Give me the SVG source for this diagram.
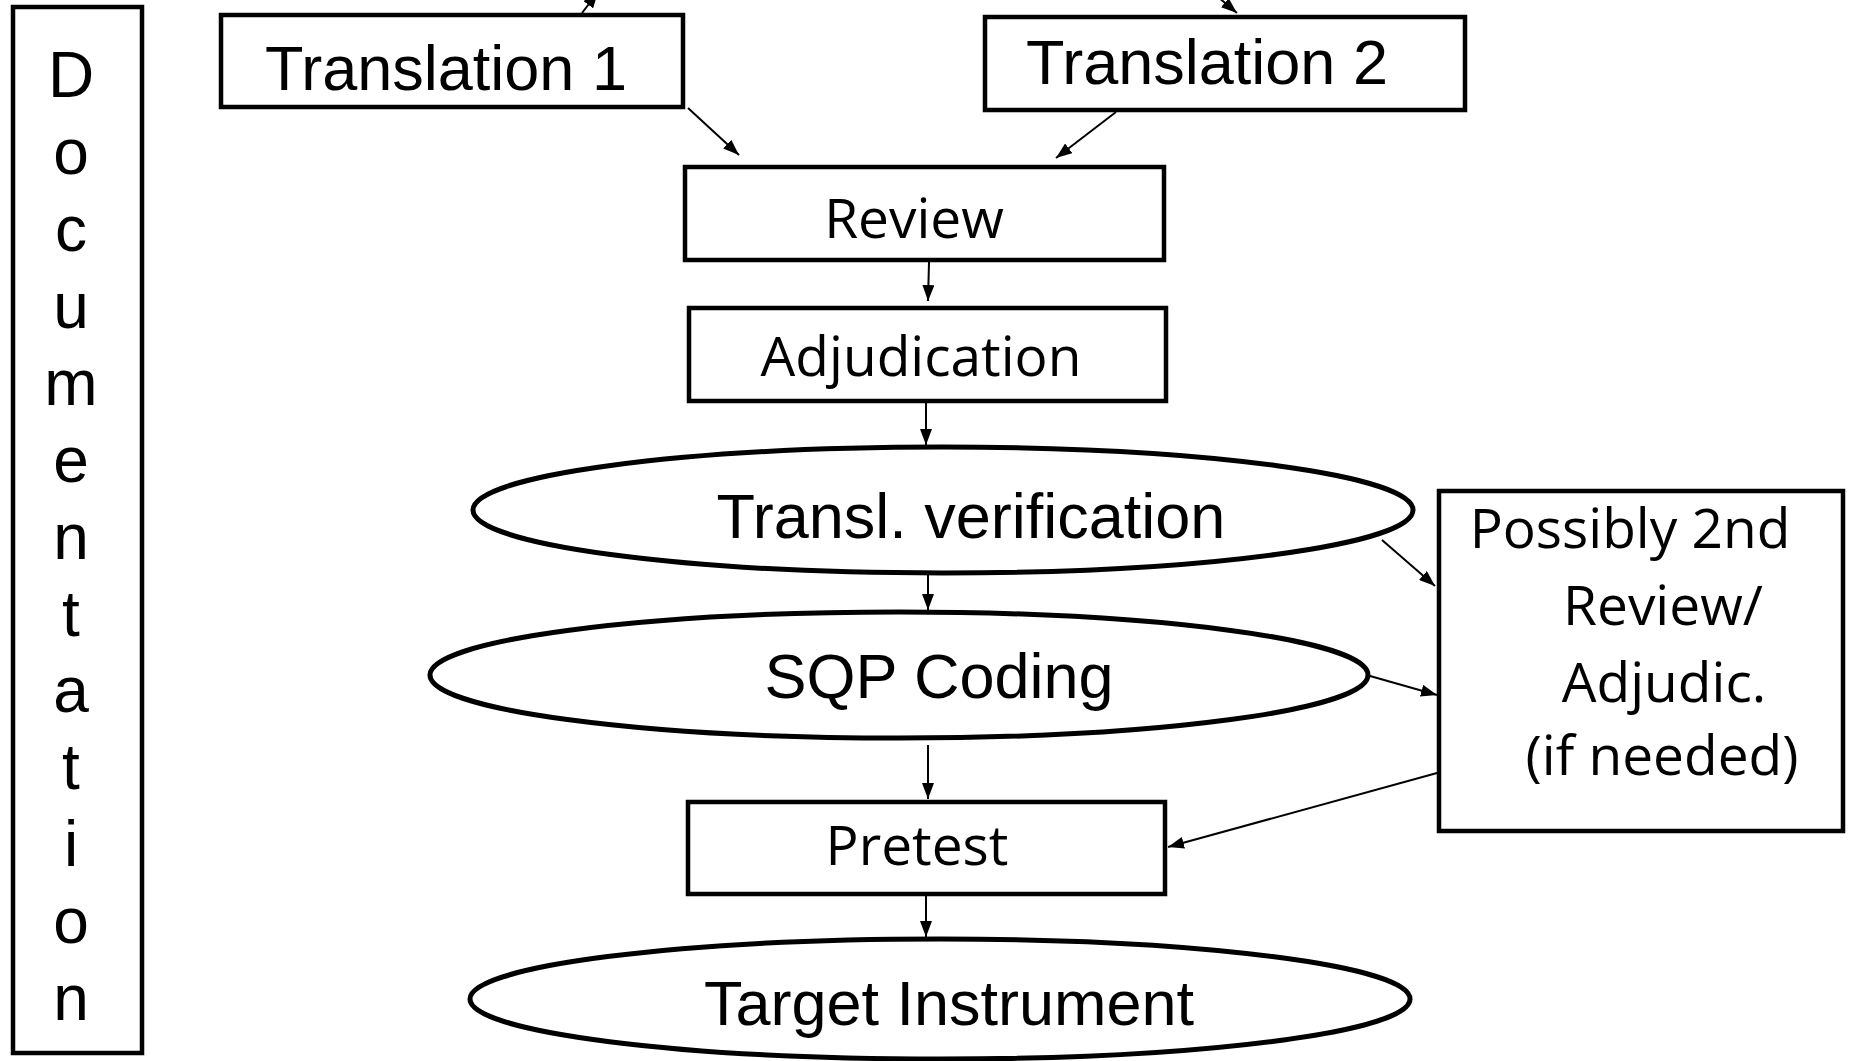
<svg xmlns="http://www.w3.org/2000/svg" width="1850" height="1061" viewBox="0 0 1850 1061">
  <style>
    .box { fill: #fff; stroke: #000; stroke-width: 4.5; }
    .oval { fill: #fff; stroke: #000; stroke-width: 5; }
    .sans { font-family: "Liberation Sans", Arial, sans-serif; font-size: 63px; fill: #000; }
    .body { font-family: "Open Sans", "Noto Sans", sans-serif; font-size: 55px; fill: #000; }
    .mid { text-anchor: middle; }
    .letter { font-size: 64px; }
    .conn line { stroke: #000; stroke-width: 2; marker-end: url(#head); }
  </style>
  <defs>
    <marker id="head" viewBox="0 0 16 12" refX="16" refY="6" markerWidth="16" markerHeight="12" markerUnits="userSpaceOnUse" orient="auto">
      <path d="M0,0 L16,6 L0,12 z" fill="#000"/>
    </marker>
  </defs>
  <rect width="1850" height="1061" fill="#fff"/>

  <!-- Side bar with the word written one letter per line -->
  <g id="documentation">
    <rect class="box" x="13" y="7" width="129" height="1046"/>
    <text class="sans mid letter" x="71" y="97">D</text>
    <text class="sans mid letter" x="71" y="174">o</text>
    <text class="sans mid letter" x="71" y="251">c</text>
    <text class="sans mid letter" x="71" y="328">u</text>
    <text class="sans mid letter" x="71" y="405">m</text>
    <text class="sans mid letter" x="71" y="482">e</text>
    <text class="sans mid letter" x="71" y="559">n</text>
    <text class="sans mid letter" x="71" y="636">t</text>
    <text class="sans mid letter" x="71" y="712">a</text>
    <text class="sans mid letter" x="71" y="789">t</text>
    <text class="sans mid letter" x="71" y="866">i</text>
    <text class="sans mid letter" x="71" y="943">o</text>
    <text class="sans mid letter" x="71" y="1020">n</text>
  </g>

  <g id="translation1">
    <rect class="box" x="221" y="15" width="462" height="92"/>
    <text class="sans mid" x="446" y="90">Translation 1</text>
  </g>

  <g id="translation2">
    <rect class="box" x="985" y="17" width="480" height="93"/>
    <text class="sans mid" x="1207" y="84">Translation 2</text>
  </g>

  <g id="review">
    <rect class="box" x="685" y="167" width="479" height="93"/>
    <text class="body mid" x="914" y="238">Review</text>
  </g>

  <g id="adjudication">
    <rect class="box" x="689" y="308" width="477" height="93"/>
    <text class="body mid" x="921" y="376">Adjudication</text>
  </g>

  <g id="verification">
    <ellipse class="oval" cx="943" cy="510" rx="470" ry="63"/>
    <text class="sans mid" x="971" y="538">Transl. verification</text>
  </g>

  <g id="sqp-coding">
    <ellipse class="oval" cx="899" cy="675" rx="469" ry="63"/>
    <text class="sans mid" x="939" y="698">SQP Coding</text>
  </g>

  <g id="pretest">
    <rect class="box" x="688" y="802" width="477" height="92"/>
    <text class="body mid" x="917" y="865">Pretest</text>
  </g>

  <g id="target-instrument">
    <ellipse class="oval" cx="940" cy="999" rx="470" ry="60"/>
    <text class="sans mid" x="949" y="1025">Target Instrument</text>
  </g>

  <g id="second-review">
    <rect class="box" x="1439" y="491" width="404" height="340"/>
    <text class="body mid" x="1630" y="548">Possibly 2nd</text>
    <text class="body mid" x="1663" y="625">Review/</text>
    <text class="body mid" x="1664" y="702">Adjudic.</text>
    <text class="body mid" x="1662" y="775">(if needed)</text>
  </g>

  <!-- Connectors -->
  <g id="connectors" class="conn">
    <line x1="582" y1="13" x2="598" y2="-8"/>
    <line x1="1205" y1="-14" x2="1237" y2="13"/>
    <line x1="688" y1="108" x2="739" y2="155"/>
    <line x1="1116" y1="112" x2="1056" y2="158"/>
    <line x1="929" y1="262" x2="928" y2="301"/>
    <line x1="926" y1="403" x2="926" y2="445"/>
    <line x1="928" y1="575" x2="928" y2="610"/>
    <line x1="1382" y1="540" x2="1435" y2="586"/>
    <line x1="1370" y1="676" x2="1437" y2="695"/>
    <line x1="928" y1="745" x2="928" y2="799"/>
    <line x1="1437" y1="773" x2="1168" y2="847"/>
    <line x1="926" y1="896" x2="926" y2="937"/>
  </g>
</svg>
